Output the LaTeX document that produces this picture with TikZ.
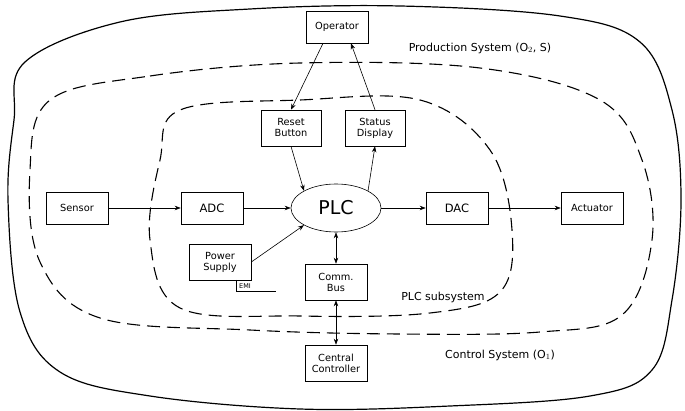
\documentclass[tikz,border=0pt]{standalone}
\usepackage{fontspec}
\setmainfont{DejaVu Sans}
\usetikzlibrary{arrows.meta,shapes.geometric}
\begin{document}
\begin{tikzpicture}[x=1pt,y=-1pt,
box/.style={draw,semithick,fill=white,minimum width=62pt,minimum height=32pt,align=center,font=\fontsize{9.8}{11}\selectfont,inner sep=1pt},
arr/.style={-{Stealth[length=6pt,width=4.5pt]},semithick},
lbl/.style={font=\fontsize{11}{13}\selectfont}]
\useasboundingbox (0,0) rectangle (685,411);
\draw[line width=1.2pt] plot[smooth cycle,tension=0.6] coordinates {(25,62) (120,22) (250,9) (400,6) (560,16) (640,42) (672,110) (681,200) (672,300) (652,370) (590,396) (450,406) (300,409) (150,396) (60,372) (20,312) (8,200) (14,120)};
\draw[line width=1.1pt,dash pattern=on 13pt off 7pt] plot[smooth cycle,tension=0.6] coordinates {(50,100) (150,76) (300,63) (480,68) (600,100) (642,160) (652,240) (622,315) (540,332) (400,334) (250,330) (100,318) (40,262) (30,170)};
\draw[line width=1.1pt,dash pattern=on 13pt off 7pt] plot[smooth cycle,tension=0.6] coordinates {(180,110) (300,100) (420,100) (490,150) (512,230) (500,292) (430,313) (300,316) (180,308) (150,240) (160,160)};
\node[box] (op) at (337,27) {Operator};
\node[box,minimum width=60pt,minimum height=36pt] (rb) at (291,128) {Reset\\Button};
\node[box,minimum width=60pt,minimum height=36pt] (sd) at (375,128) {Status\\Display};
\node[box] (sen) at (77,208) {Sensor};
\node[box,font=\fontsize{11.5}{12}\selectfont] (adc) at (212,208) {ADC};
\node[draw,semithick,fill=white,ellipse,minimum width=90pt,minimum height=48pt,font=\fontsize{19}{20}\selectfont] (plc) at (336,208) {PLC};
\node[box,font=\fontsize{11.5}{12}\selectfont] (dac) at (457,208) {DAC};
\node[box] (act) at (592,208) {Actuator};
\node[box,minimum width=62pt,minimum height=36pt] (ps) at (220,262) {Power\\Supply};
\node[box,minimum width=62pt,minimum height=36pt] (cb) at (336,282) {Comm.\\Bus};
\node[box,minimum width=62pt,minimum height=36pt] (cc) at (336,363) {Central\\Controller};
\draw[arr] ([xshift=-14pt]op.south) -- (rb.north);
\draw[arr] (sd.north) -- ([xshift=14pt]op.south);
\draw[arr] (rb.south) -- (plc.north west);
\draw[arr] (plc.north east) -- (sd.south);
\draw[arr] (sen) -- (adc);
\draw[arr] (adc) -- (plc);
\draw[arr] (plc) -- (dac);
\draw[arr] (dac) -- (act);
\draw[arr] (ps.east) -- (plc.south west);
\draw[arr,{Stealth[length=6pt,width=4.5pt]}-{Stealth[length=6pt,width=4.5pt]}] (plc.south) -- (cb.north);
\draw[arr,{Stealth[length=6pt,width=4.5pt]}-{Stealth[length=6pt,width=4.5pt]}] (cb.south) -- (cc.north);
\coordinate (e1) at (236,280);
\coordinate (e2) at (236,291);
\coordinate (e3) at (276,291);
\draw[semithick] (e1) -- (e2) -- (e3);
\node[font=\fontsize{6.5}{7}\selectfont,anchor=south west,inner sep=1pt] (emi) at (238,290) {EMI};
\node[lbl] (t1) at (480,48) {Production System (O$_2$, S)};
\node[lbl] (t2) at (443,297) {PLC subsystem};
\node[lbl] (t3) at (500,355) {Control System (O$_1$)};
\end{tikzpicture}
\end{document}
